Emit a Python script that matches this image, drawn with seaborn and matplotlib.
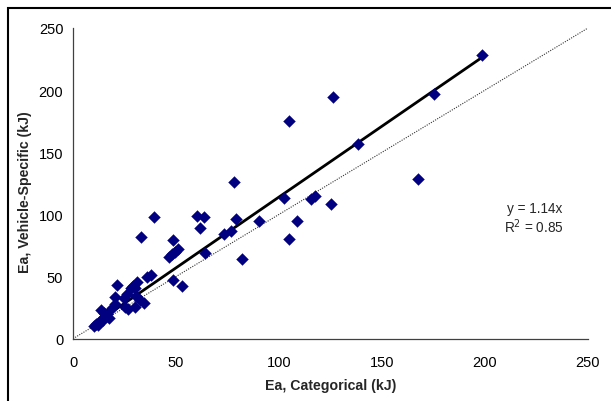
import matplotlib
matplotlib.use("Agg")
import matplotlib.pyplot as plt
import seaborn as sns
import numpy as np
import pandas as pd
from matplotlib.patches import Rectangle

categorical = [198.4, 175.2, 126.0, 104.7, 138.3, 167.7, 78.0, 102.3, 115.3, 117.4,
               125.3, 60.3, 63.5, 39.2, 79.1, 90.4, 108.9, 61.6, 73.5, 76.7,
               33.2, 48.6, 104.7, 51.0, 49.6, 48.0, 46.5, 64.2, 82.1, 37.7,
               36.0, 48.6, 52.9, 21.3, 31.1, 29.2, 28.3, 30.1, 20.5, 26.2,
               24.7, 30.7, 32.6, 34.3, 30.3, 25.1, 26.9, 20.2, 18.8, 13.6,
               14.9, 16.4, 17.5, 14.1, 13.0, 11.3, 10.4, 12.1, 14.7]
vehicle_specific = [228.1, 197.1, 194.1, 175.4, 157.0, 128.9, 126.0, 113.4, 112.6, 114.7,
                    108.6, 98.9, 97.9, 97.9, 96.0, 94.9, 94.9, 88.8, 84.0, 86.6,
                    81.6, 79.4, 80.5, 72.2, 69.5, 68.2, 66.0, 69.0, 63.9, 51.3,
                    49.7, 47.3, 42.2, 43.3, 45.5, 42.8, 40.6, 40.6, 33.2, 35.6,
                    32.9, 34.0, 31.0, 28.9, 25.9, 25.4, 23.5, 28.1, 24.6, 23.0,
                    20.9, 20.1, 16.6, 16.0, 13.9, 12.0, 9.9, 11.2, 15.2]
slope = 1.14
r_squared = 0.85
ticks = [0, 50, 100, 150, 200, 250]

df = pd.DataFrame({"x": categorical, "y": vehicle_specific})

sns.set_style("white")
plt.rcParams["font.family"] = ["Liberation Sans", "DejaVu Sans"]

fig = plt.figure(figsize=(6.11, 4.02), dpi=100)
ax = fig.add_axes([73/611, 1 - 339.7/402, (588-73)/611, (339.7-29)/402])

# outer frame
fig.patches.append(Rectangle((8/611, -0.1), 1.2, (402-9)/402 + 0.1,
                             transform=fig.transFigure, fill=False,
                             edgecolor="black", linewidth=1.5, zorder=0))

# identity line (dotted)
ax.plot([0, 250], [0, 250], linestyle=(0, (1, 1.2)), color="#333333", linewidth=0.8, zorder=1)

# fitted line through origin
xmin, xmax = min(categorical), max(categorical)
ax.plot([xmin, xmax], [slope * xmin, slope * xmax], color="black", linewidth=2, zorder=2)

sns.scatterplot(data=df, x="x", y="y", marker="D", s=36, color="#000080",
                edgecolor="#000080", linewidth=0.3, ax=ax, zorder=3)

ax.set_xlim(0, 250)
ax.set_ylim(0, 250)
ax.set_xticks(ticks)
ax.set_yticks(ticks)
ax.tick_params(axis="both", direction="out", length=4, width=0.8, color="#404040",
               labelsize=10.5, labelcolor="black")
ax.tick_params(axis="x", pad=8)
ax.tick_params(axis="y", pad=3)
for side in ["top", "right"]:
    ax.spines[side].set_visible(False)
for side in ["left", "bottom"]:
    ax.spines[side].set_color("#404040")
    ax.spines[side].set_linewidth(0.9)

ax.set_xlabel("Ea, Categorical (kJ)", fontsize=10.2, fontweight="bold", labelpad=6)
ax.set_ylabel("Ea, Vehicle-Specific (kJ)", fontsize=10.2, fontweight="bold")
ax.yaxis.set_label_coords(-0.080, 0.475)

ax.text(224, 105, f"y = {slope:.2f}x", ha="center", va="center", fontsize=9.8)
ax.text(224, 91, f"R$^2$ = {r_squared:.2f}", ha="center", va="center", fontsize=9.8)

fig.savefig("out.png", dpi=100)
